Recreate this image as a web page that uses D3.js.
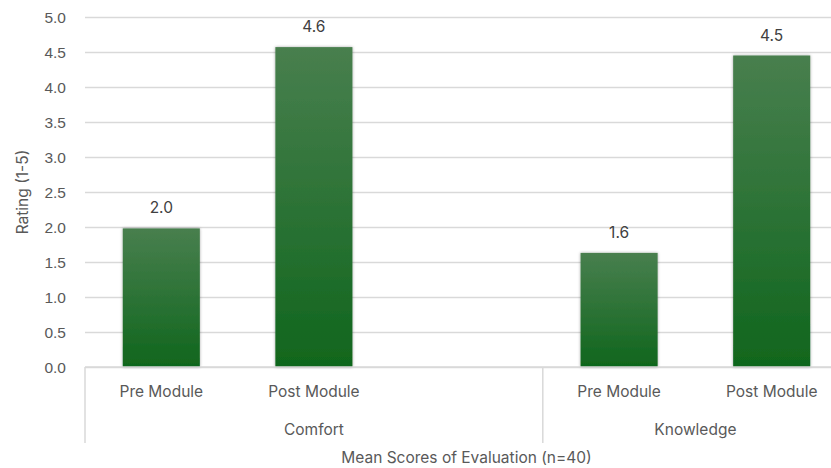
<!DOCTYPE html>
<html>
<head>
  <meta charset="utf-8" />
  <title>Mean Scores of Evaluation</title>
  <script src="https://d3js.org/d3.v7.min.js"></script>
  <style>
    body { margin: 0; background: #fff; }
    svg { font-family: Inter, "Open Sans", sans-serif; }
    .tick text { fill: #595959; font-size: 15.5px; }
  </style>
</head>
<body>
  <svg id="chart" width="831" height="468"></svg>
  <script>
    // data
    var groups = ["Comfort", "Knowledge"];
    var stages = ["Pre Module", "Post Module"];
    var comfortValues = [1.98, 4.57];
    var knowledgeValues = [1.63, 4.45];
    var valueLabels = ["2.0", "4.6", "1.6", "4.5"];
    var yTicks = [0, 0.5, 1, 1.5, 2, 2.5, 3, 3.5, 4, 4.5, 5];

    // Excel left an empty third slot in the Comfort group
    var slots = ["c0", "c1", "c2", "k0", "k1"];
    var bars = [
      { slot: "c0", stage: stages[0], value: comfortValues[0], label: valueLabels[0] },
      { slot: "c1", stage: stages[1], value: comfortValues[1], label: valueLabels[1] },
      { slot: "k0", stage: stages[0], value: knowledgeValues[0], label: valueLabels[2] },
      { slot: "k1", stage: stages[1], value: knowledgeValues[1], label: valueLabels[3] }
    ];
    var groupSpans = [
      { name: groups[0], from: "c0", to: "c2" },
      { name: groups[1], from: "k0", to: "k1" }
    ];

    // plot box (right edge runs past the window, as in the reference)
    var plotL = 85, plotR = 848, plotT = 17, plotB = 367;
    var svg = d3.select("#chart");

    var x = d3.scaleBand().domain(slots).range([plotL, plotR]).paddingInner(0).paddingOuter(0);
    var y = d3.scaleLinear().domain([0, 5]).range([plotB, plotT]);

    var defs = svg.append("defs");
    var grad = defs.append("linearGradient")
      .attr("id", "barGrad").attr("x1", 0).attr("y1", 0).attr("x2", 0).attr("y2", 1);
    grad.append("stop").attr("offset", "0%").attr("stop-color", "#487f4e");
    grad.append("stop").attr("offset", "100%").attr("stop-color", "#10661d");

    var shadow = defs.append("filter").attr("id", "shadow")
      .attr("x", "-20%").attr("y", "-10%").attr("width", "140%").attr("height", "120%");
    shadow.append("feDropShadow").attr("dx", 0).attr("dy", 0)
      .attr("stdDeviation", 1.6).attr("flood-color", "#000").attr("flood-opacity", 0.35);

    // gridlines + y axis labels
    var yAxis = d3.axisLeft(y).tickValues(yTicks).tickFormat(d3.format(".1f"))
      .tickSize(-(plotR - plotL)).tickPadding(19);
    var gy = svg.append("g").attr("transform", "translate(" + plotL + ",0)").call(yAxis);
    gy.select(".domain").remove();
    gy.selectAll(".tick line").attr("stroke", "#d9d9d9").attr("stroke-width", 1.5);
    gy.selectAll(".tick text").attr("dy", "0.35em");

    // bars
    var bw = x.bandwidth() * 0.505;
    svg.selectAll(".bar").data(bars).enter().append("rect")
      .attr("class", "bar")
      .attr("x", function (d) { return x(d.slot) + (x.bandwidth() - bw) / 2; })
      .attr("y", function (d) { return y(d.value); })
      .attr("width", bw)
      .attr("height", function (d) { return y(0) - y(d.value); })
      .attr("fill", "url(#barGrad)")
      .attr("filter", "url(#shadow)");

    // value labels
    svg.selectAll(".vlabel").data(bars).enter().append("text")
      .attr("x", function (d) { return x(d.slot) + x.bandwidth() / 2; })
      .attr("y", function (d) { return y(d.value) - 15; })
      .attr("text-anchor", "middle")
      .attr("fill", "#404040").attr("font-size", 15.5)
      .text(function (d) { return d.label; });

    // x axis baseline
    svg.append("line")
      .attr("x1", plotL).attr("x2", plotR).attr("y1", y(0)).attr("y2", y(0))
      .attr("stroke", "#d9d9d9").attr("stroke-width", 1.5);

    // category labels
    svg.selectAll(".cat").data(bars).enter().append("text")
      .attr("x", function (d) { return x(d.slot) + x.bandwidth() / 2; })
      .attr("y", 397)
      .attr("text-anchor", "middle")
      .attr("fill", "#595959").attr("font-size", 15.5)
      .text(function (d) { return d.stage; });

    // group separators
    var seps = [x("c0"), x("k0"), x("k1") + x.bandwidth()];
    svg.selectAll(".sep").data(seps).enter().append("line")
      .attr("x1", function (d) { return d; }).attr("x2", function (d) { return d; })
      .attr("y1", y(0)).attr("y2", 443)
      .attr("stroke", "#d9d9d9").attr("stroke-width", 1.5);

    // group labels
    svg.selectAll(".grp").data(groupSpans).enter().append("text")
      .attr("x", function (d) { return (x(d.from) + x(d.to) + x.bandwidth()) / 2; })
      .attr("y", 435)
      .attr("text-anchor", "middle")
      .attr("fill", "#595959").attr("font-size", 15.5)
      .text(function (d) { return d.name; });

    // axis titles
    svg.append("text")
      .attr("x", (plotL + plotR) / 2).attr("y", 463)
      .attr("text-anchor", "middle")
      .attr("fill", "#595959").attr("font-size", 15.5)
      .text("Mean Scores of Evaluation (n=40)");

    svg.append("text")
      .attr("transform", "translate(28," + (plotT + plotB) / 2 + ") rotate(-90)")
      .attr("text-anchor", "middle")
      .attr("fill", "#595959").attr("font-size", 15.5)
      .text("Rating (1-5)");
  </script>
</body>
</html>
